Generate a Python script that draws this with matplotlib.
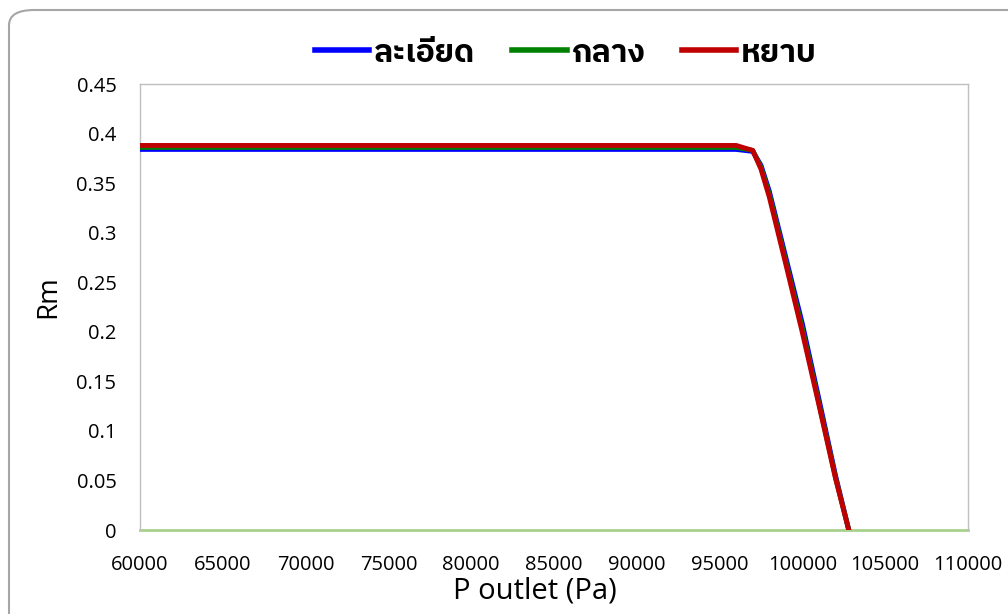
import matplotlib
matplotlib.use('Agg')
import matplotlib.pyplot as plt
from matplotlib import font_manager
from matplotlib.patches import FancyBboxPatch

# อ่านค่าจากกราฟต้นฉบับ
p_outlet = [60000, 70000, 80000, 90000, 96000, 97000, 97500, 98000, 99000, 100000, 101000, 102000, 102800]
rm_fine = [0.384, 0.384, 0.384, 0.384, 0.384, 0.382, 0.368, 0.342, 0.275, 0.208, 0.132, 0.055, 0.0]
rm_mid = [0.386, 0.386, 0.386, 0.386, 0.386, 0.383, 0.366, 0.339, 0.271, 0.203, 0.128, 0.053, 0.0]
rm_coarse = [0.388, 0.388, 0.388, 0.388, 0.388, 0.383, 0.364, 0.336, 0.268, 0.199, 0.126, 0.052, 0.0]
labels = ['ละเอียด', 'กลาง', 'หยาบ']
colors = ['#0000ff', '#008000', '#c00000']

x_ticks = list(range(60000, 110001, 5000))
y_ticks = [0, 0.05, 0.1, 0.15, 0.2, 0.25, 0.3, 0.35, 0.4, 0.45]
y_tick_labels = ['0', '0.05', '0.1', '0.15', '0.2', '0.25', '0.3', '0.35', '0.4', '0.45']

# ฟอนต์ไทยตัวหนา
thai_font = 'DejaVu Sans'
for name in ['Noto Sans Thai UI', 'Noto Sans Thai', 'IBM Plex Sans Thai']:
    ws = [f.weight for f in font_manager.fontManager.ttflist if f.name == name]
    if any((w == 'bold' or (isinstance(w, int) and w >= 700)) for w in ws):
        thai_font = name
        break

plt.rcParams['font.family'] = ['Open Sans', 'DejaVu Sans']

fig = plt.figure(figsize=(10.08, 6.14), dpi=100)
W, H = 1008, 614
ax = fig.add_axes([140 / W, 1 - 530 / H, 828 / W, 446 / H])

border = FancyBboxPatch((9 / W, -0.05), 1.05, 1 - 10 / H + 0.05,
                        boxstyle='round,pad=0,rounding_size=0.025',
                        transform=fig.transFigure, facecolor='none',
                        edgecolor='#a6a6a6', linewidth=1.5, clip_on=False)
fig.patches.append(border)

ax.axhline(0, color='#a9d18e', linewidth=2, zorder=2, clip_on=False)
ax.plot(p_outlet, rm_fine, color=colors[0], linewidth=3.5, label=labels[0], zorder=3)
ax.plot(p_outlet, rm_mid, color=colors[1], linewidth=3.5, label=labels[1], zorder=4)
ax.plot(p_outlet, rm_coarse, color=colors[2], linewidth=3.5, label=labels[2], zorder=5)

ax.set_xlim(60000, 110000)
ax.set_ylim(0, 0.45)
ax.set_xticks(x_ticks)
ax.set_xticklabels([str(v) for v in x_ticks])
ax.set_yticks(y_ticks)
ax.set_yticklabels(y_tick_labels)
ax.tick_params(length=0, labelsize=14.5, colors='#000000')
ax.tick_params(axis='x', pad=18)
ax.tick_params(axis='y', pad=17)
for s in ax.spines.values():
    s.set_color('#bfbfbf')
    s.set_linewidth(1.0)
ax.spines['bottom'].set_visible(False)

ax.set_xlabel('P outlet (Pa)', fontsize=21)
ax.xaxis.set_label_coords((535 - 140) / 828, -(591 - 530) / 446)
ax.xaxis.label.set_va('center')
ax.set_ylabel('Rm', fontsize=20)
ax.yaxis.set_label_coords((48 - 140) / 828, (530 - 297) / 446)
ax.yaxis.label.set_va('center')

leg = ax.legend(loc='center', bbox_to_anchor=((566 - 140) / 828, (530 - 53) / 446), ncol=3,
                frameon=False,
                prop={'family': [thai_font, 'DejaVu Sans'], 'weight': 'bold', 'size': 23},
                handlelength=1.7, handletextpad=0.15, columnspacing=1.15,
                borderpad=0, borderaxespad=0)
for line in leg.get_lines():
    line.set_linewidth(4)

fig.savefig('out.png', dpi=100)
